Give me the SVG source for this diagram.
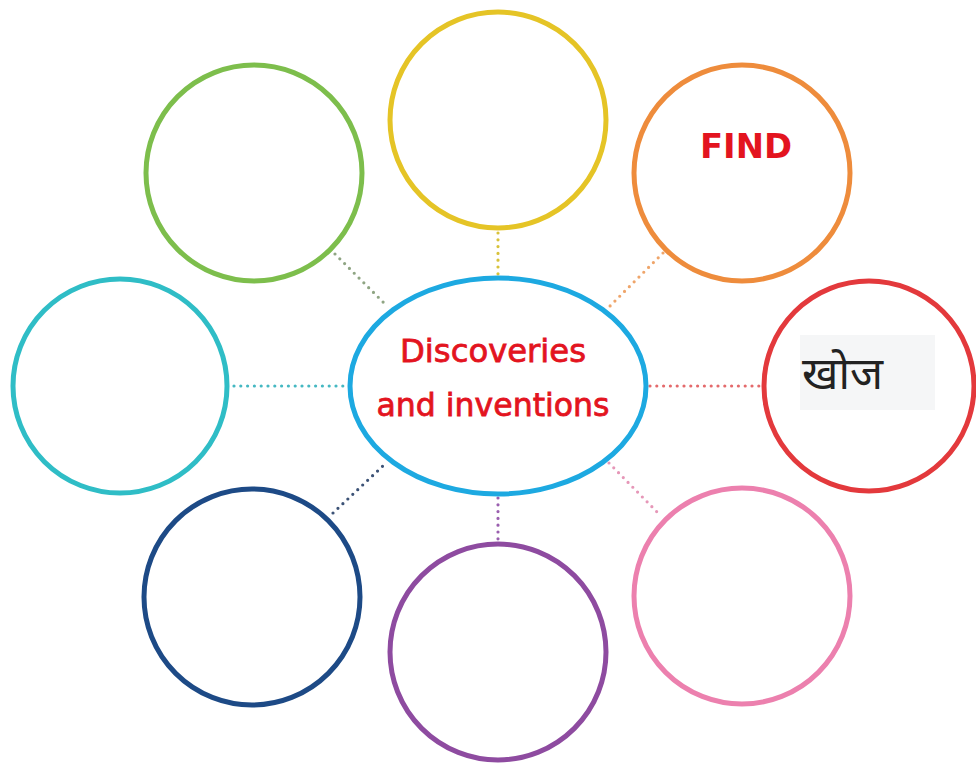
<svg xmlns="http://www.w3.org/2000/svg" width="976" height="763" viewBox="0 0 976 763">
<style>
.c{fill:none;stroke-width:5}
.d{fill:none;stroke-width:3.2;stroke-linecap:round;stroke-dasharray:0 6.8}
.t{font-family:"DejaVu Sans","Liberation Sans",sans-serif;fill:#E3141F;text-anchor:middle}
</style>
<rect width="976" height="763" fill="#fff"/>
<g id="connectors">
<line class="d" x1="335" y1="254" x2="387" y2="306" stroke="#8FA583"/>
<line class="d" x1="498" y1="233" x2="498" y2="274" stroke="#D8C23A"/>
<line class="d" x1="663" y1="253" x2="610" y2="306" stroke="#EFA56A"/>
<line class="d" x1="234" y1="386" x2="347" y2="386" stroke="#45B8C2"/>
<line class="d" x1="650" y1="386" x2="762" y2="386" stroke="#E46A6C"/>
<line class="d" x1="333" y1="513" x2="385" y2="464" stroke="#3C5276"/>
<line class="d" x1="498" y1="498" x2="498" y2="541" stroke="#9A5FAF"/>
<line class="d" x1="609" y1="463" x2="661" y2="516" stroke="#E697B8"/>
</g>
<g id="center"><ellipse class="c" cx="498" cy="386" rx="148" ry="108" stroke="#1DA9E1"/>
<text class="t" x="493" y="362" font-size="32" stroke="#E3141F" stroke-width="0.8" textLength="186" lengthAdjust="spacingAndGlyphs">Discoveries</text>
<text class="t" x="493" y="416" font-size="32" stroke="#E3141F" stroke-width="0.8" textLength="233" lengthAdjust="spacingAndGlyphs">and inventions</text></g>
<g id="n-top"><circle class="c" cx="498" cy="120" r="108" stroke="#E5C426"/></g>
<g id="n-topleft"><circle class="c" cx="254" cy="173" r="108" stroke="#7DBE4C"/></g>
<g id="n-topright"><circle class="c" cx="742" cy="173" r="108" stroke="#EE8C3C"/>
<text class="t" x="746" y="158" font-size="33" font-weight="bold" textLength="92" lengthAdjust="spacingAndGlyphs">FIND</text></g>
<g id="n-left"><circle class="c" cx="120" cy="386" r="107" stroke="#2FBDC6"/></g>
<g id="n-right"><circle class="c" cx="869" cy="386" r="105" stroke="#E3393C"/>
<rect x="800" y="335" width="135" height="75" fill="#F5F6F7"/>
<text x="802" y="389" font-family="'Noto Sans','DejaVu Sans',sans-serif" font-size="44" fill="#222" textLength="81" lengthAdjust="spacingAndGlyphs">खोज</text></g>
<g id="n-botleft"><circle class="c" cx="252" cy="597" r="108" stroke="#1D4A86"/></g>
<g id="n-bottom"><circle class="c" cx="498" cy="652" r="108" stroke="#8E4BA0"/></g>
<g id="n-botright"><circle class="c" cx="742" cy="596" r="108" stroke="#EC80AE"/></g>
</svg>
